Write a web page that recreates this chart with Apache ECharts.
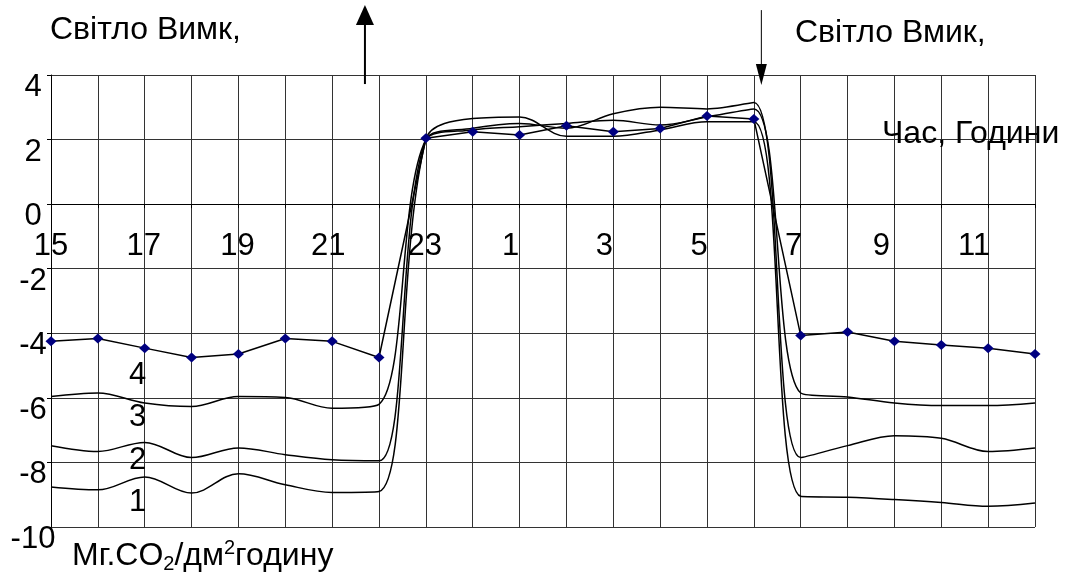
<!DOCTYPE html>
<html><head><meta charset="utf-8">
<script src="https://cdn.jsdelivr.net/npm/echarts@6/dist/echarts.min.js"></script>
<style>html,body{margin:0;padding:0;background:#fff}#c{width:1067px;height:578px}</style>
</head><body><div id="c"></div>
<script>
// Hours of the experiment (15:00 of day 1 through 12:00 of day 2, continuous)
const hours = [15,16,17,18,19,20,21,22,23,24,25,26,27,28,29,30,31,32,33,34,35,36];
const tickLabels = ['15','','17','','19','','21','','23','','1','','3','','5','','7','','9','','11',''];
const yTicks = [-10,-8,-6,-4,-2,0,2,4];
// CO2 exchange, mg CO2 / dm2 per hour
const series1 = [-8.76,-8.85,-8.45,-8.95,-8.35,-8.69,-8.93,-8.90, 2.00,2.65,2.70,2.10,2.10,2.30,2.55,2.55, -9.05,-9.08,-9.15,-9.24,-9.36,-9.26];
const series2 = [-7.48,-7.66,-7.38,-7.85,-7.55,-7.76,-7.92,-7.95, 2.00,2.35,2.50,2.35,2.80,3.00,2.95,3.15, -7.85,-7.48,-7.17,-7.25,-7.66,-7.55];
const series3 = [-5.96,-5.85,-6.16,-6.27,-5.96,-5.99,-6.32,-6.20, 2.00,2.30,2.40,2.50,2.60,2.45,2.70,2.95, -5.85,-5.97,-6.16,-6.24,-6.24,-6.16];
const series4 = [-4.25,-4.16,-4.46,-4.75,-4.64,-4.16,-4.25,-4.75, 2.04,2.24,2.14,2.43,2.24,2.34,2.73,2.64, -4.07,-3.96,-4.25,-4.36,-4.46,-4.64];
const curveNames = ['1','2','3','4'];

// styling
const FONT = '"Liberation Sans", Arial, sans-serif';
const FS = 32;      // caption font size
const NFS = 31;     // number font size
const GRID = { left: 51, right: 32, top: 75, bottom: 51 };
const H = 578;
const Y_MIN = -10, Y_MAX = 4;
const gridH = H - GRID.top - GRID.bottom;
const zeroFromBottom = gridH * (0 - Y_MIN) / (Y_MAX - Y_MIN);
// small leftward nudges of the x labels, as in the original layout
const labelNudge = [0,0,1,0,1,0,4,0,1,0,9,0,9,0,8,0,7,0,13,0,14,0];

const xRich = {};
labelNudge.forEach((n, i) => {
  xRich['n' + i] = { fontSize: NFS, fontFamily: FONT, color: '#000', padding: [0, 2 * n, 0, 0] };
});

const pair = arr => hours.map((h, i) => [h, arr[i]]);
const smoothLine = (name, arr) => ({
  name, type: 'line', data: pair(arr), smooth: 0.35, showSymbol: false, symbol: 'none',
  lineStyle: { color: '#000', width: 1.5 }, z: 3, silent: true
});

const chart = echarts.init(document.getElementById('c'), null, { renderer: 'canvas' });
chart.setOption({
  backgroundColor: '#fff',
  animation: false,
  grid: Object.assign({ containLabel: false }, GRID),
  xAxis: {
    type: 'value', min: 15, max: 36, interval: 1,
    offset: -zeroFromBottom,
    axisLine: { show: true, onZero: false, lineStyle: { color: '#000', width: 1 } },
    axisTick: { show: true, inside: false, length: 4, lineStyle: { color: '#000' } },
    axisLabel: {
      margin: 27, color: '#000', fontFamily: FONT, fontSize: NFS,
      formatter: v => {
        const i = Math.round(v) - 15;
        return tickLabels[i] ? '{n' + i + '|' + tickLabels[i] + '}' : '';
      },
      rich: xRich
    },
    splitLine: { show: true, lineStyle: { color: '#333', width: 1 } }
  },
  yAxis: {
    type: 'value', min: Y_MIN, max: Y_MAX, interval: 2,
    axisLine: { show: true, lineStyle: { color: '#000', width: 1 } },
    axisTick: { show: true, length: 4, lineStyle: { color: '#000' } },
    axisLabel: {
      margin: 18, align: 'center', color: '#000', fontFamily: FONT, fontSize: NFS,
      formatter: v => yTicks.includes(v) ? '{v|' + v + '}' : '',
      rich: { v: { fontSize: NFS, fontFamily: FONT, color: '#000', padding: [25, 0, 0, 0] } }
    },
    splitLine: { show: true, lineStyle: { color: '#333', width: 1 } }
  },
  series: [
    smoothLine(curveNames[0], series1),
    smoothLine(curveNames[1], series2),
    smoothLine(curveNames[2], series3),
    {
      name: curveNames[3], type: 'line', data: pair(series4), smooth: false,
      symbol: 'diamond', symbolSize: [11, 10],
      itemStyle: { color: '#000080' },
      lineStyle: { color: '#000', width: 1.5 }, z: 4, silent: true
    }
  ]
});

// annotations placed in data coordinates
const P = (x, y) => chart.convertToPixel({ gridIndex: 0 }, [x, y]);
const curveLabelPos = [[16.85, -9.25], [16.85, -7.95], [16.85, -6.62], [16.85, -5.3]];
const upA = { x: 21.7, from: 3.72, to: 6.17 };
const downA = { x: 30.16, from: 6.01, to: 3.69 };
const a0 = P(upA.x, upA.from), a1 = P(upA.x, upA.to);
const d0 = P(downA.x, downA.from), d1 = P(downA.x, downA.to);

const txt = (text, x, y, fs, align) => ({
  type: 'text', x, y,
  style: { text, fill: '#000', font: fs + 'px ' + FONT, textAlign: align || 'left', textVerticalAlign: 'middle' }
});

const graphics = [
  txt('Світло Вимк,', 50, 30, FS),
  txt('Світло Вмик,', 795, 33, FS),
  txt('Час, Години', 882, 134, FS),
  {
    type: 'text', x: 72, y: 556,
    style: {
      text: '{a|Мг.CO}{s|2}{a|/дм}{p|2}{a|годину}',
      textVerticalAlign: 'middle',
      rich: {
        a: { fontSize: FS, fontFamily: FONT, fill: '#000', lineHeight: 36, verticalAlign: 'middle' },
        s: { fontSize: 20, fontFamily: FONT, fill: '#000', lineHeight: 20, verticalAlign: 'bottom' },
        p: { fontSize: 20, fontFamily: FONT, fill: '#000', lineHeight: 20, verticalAlign: 'top' }
      }
    }
  },
  // up arrow (light off)
  { type: 'line', shape: { x1: a0[0], y1: a0[1], x2: a1[0], y2: a1[1] + 18 }, style: { stroke: '#000', lineWidth: 2 } },
  { type: 'polygon', shape: { points: [[a1[0] - 9, a1[1] + 20], [a1[0] + 9, a1[1] + 20], [a1[0], a1[1]]] }, style: { fill: '#000' } },
  // down arrow (light on)
  { type: 'line', shape: { x1: d0[0], y1: d0[1], x2: d1[0], y2: d1[1] - 18 }, style: { stroke: '#000', lineWidth: 1 } },
  { type: 'polygon', shape: { points: [[d1[0] - 5.5, d1[1] - 21], [d1[0] + 5.5, d1[1] - 21], [d1[0], d1[1]]] }, style: { fill: '#000' } }
];
curveLabelPos.forEach((p, i) => {
  const q = P(p[0], p[1]);
  graphics.push(txt(curveNames[i], q[0], q[1], NFS, 'center'));
});
chart.setOption({ graphic: graphics });
</script>
</body></html>
